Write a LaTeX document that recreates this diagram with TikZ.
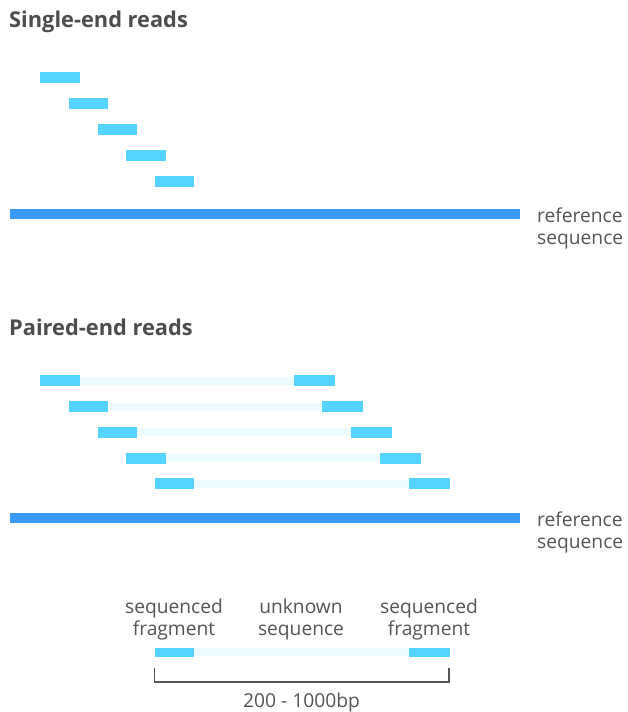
\documentclass[tikz,border=0pt]{standalone}
\usepackage{fontspec}
\setmainfont{Open Sans}
\begin{document}
\begin{tikzpicture}[x=1pt,y=-1pt,
  read/.style={fill=readblue,draw=none,inner sep=0pt,minimum width=39.5pt,minimum height=11pt,anchor=north west},
  refbar/.style={fill=refblue,draw=none,inner sep=0pt,minimum width=510pt,minimum height=10pt,anchor=north west},
  gap/.style={draw=gapblue,line width=8pt},
  lbl/.style={text=txtgray,font=\fontsize{19.2}{22}\selectfont,inner sep=0pt,align=left},
  clbl/.style={text=txtgray,font=\fontsize{19.2}{22}\selectfont,inner sep=0pt,align=center},
  ttl/.style={text=ttlgray,font=\fontsize{21.8}{24}\selectfont\bfseries,inner sep=0pt,anchor=west}]
\definecolor{readblue}{HTML}{55D4FF}
\definecolor{refblue}{HTML}{3A9BFA}
\definecolor{gapblue}{HTML}{EDFCFF}
\definecolor{txtgray}{HTML}{555555}
\definecolor{ttlgray}{HTML}{4D4D4D}
\useasboundingbox[fill=white] (0,0) rectangle (627,712);
\node[ttl] (t1) at (9,22) {Single-end reads};
\node[read] (s1) at (40,72) {};
\node[read] (s2) at (68.7,98) {};
\node[read] (s3) at (97.4,123.8) {};
\node[read] (s4) at (126,149.6) {};
\node[read] (s5) at (154.5,175.4) {};
\node[refbar] (r1) at (10,209) {};
\node[lbl,anchor=north west] (rl1) at (537,208) {reference\\sequence};
\node[ttl] (t2) at (9,327) {Paired-end reads};
\foreach \i/\xl/\yy/\xr in {1/40/375/293.5,2/68.7/401/322,3/97.4/426.7/351,4/126/452.4/380,5/154.5/478/408.5}{
  \node[read] (pl\i) at (\xl,\yy) {};
  \node[read,minimum width=41pt] (pr\i) at (\xr,\yy) {};
  \draw[gap] (pl\i.east) -- (pr\i.west);
}
\node[refbar] (r2) at (10,513) {};
\node[lbl,anchor=north west] (rl2) at (537,512) {reference\\sequence};
\node[read,minimum height=9.5pt] (fl) at (154.5,647.5) {};
\node[read,minimum height=9.5pt,minimum width=41pt] (fr) at (408.5,647.5) {};
\draw[gap] (fl.east) -- (fr.west);
\node[clbl,anchor=south] (a1) at (174,640) {sequenced\\fragment};
\node[clbl,anchor=south] (a2) at (301,640) {unknown\\sequence};
\node[clbl,anchor=south] (a3) at (429,640) {sequenced\\fragment};
\coordinate (bl) at (154.5,668);
\coordinate (br) at (449,668);
\draw[txtgray,line width=1.4pt] (bl) -- ++(0,14) -| (br);
\node[clbl,anchor=north] (bp) at (301.5,693) {200 - 1000bp};
\end{tikzpicture}
\end{document}
